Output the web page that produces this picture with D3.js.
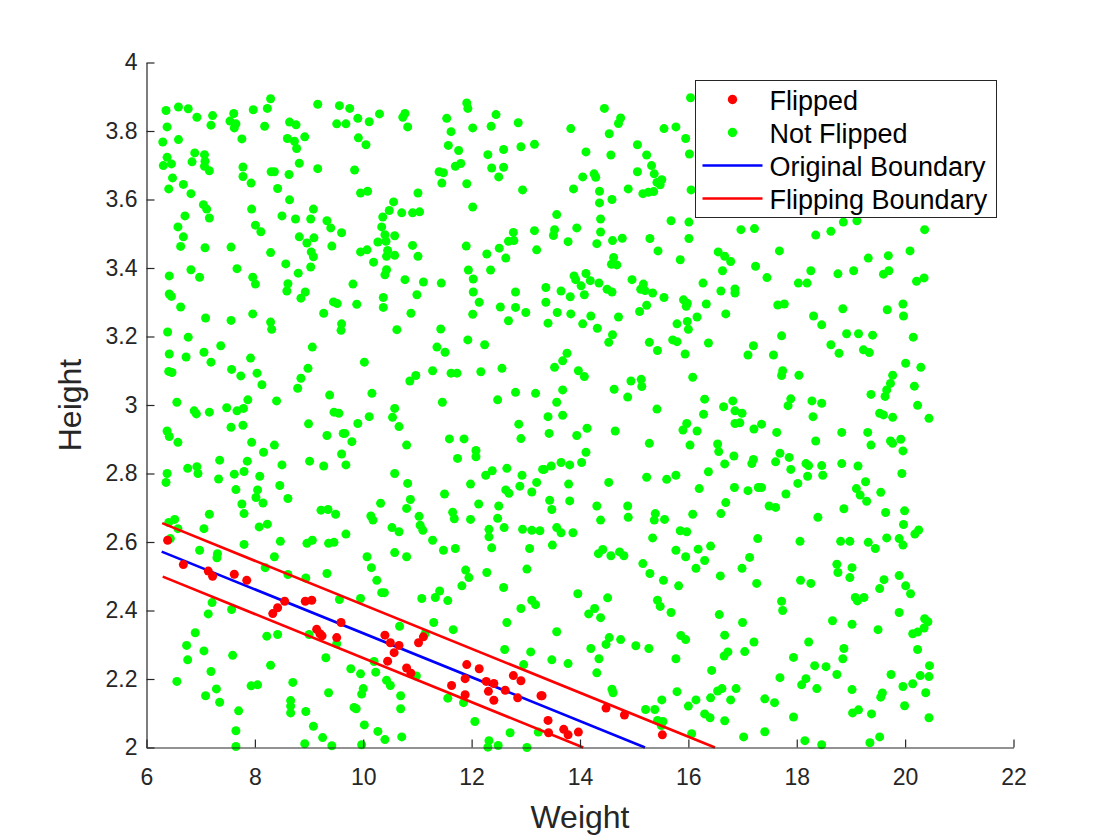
<!DOCTYPE html>
<html>
<head>
<meta charset="utf-8">
<script src="https://cdn.jsdelivr.net/npm/d3@7"></script>
<style>
  body { margin: 0; background: #fff; }
  svg text { font-family: "Liberation Sans", Arial, Helvetica, sans-serif; fill: #262626; }
</style>
</head>
<body>
<div id="display"><svg width="1120" height="840"></svg></div>
<script>
// weight / height pairs
var notFlipped = [
  [6.36,3.86],[6.59,3.87],[6.77,3.865],[6.93,3.84],[7.22,3.845],[7.19,3.817],[7.61,3.851],[7.54,3.829],[7.65,3.821],[7.62,3.809],
  [7.97,3.862],[8.23,3.866],[8.29,3.894],[8.18,3.814],[9.16,3.878],[9.56,3.874],[9.51,3.821],[9.68,3.821],[8.64,3.826],[8.76,3.818],
  [6.38,3.812],[6.30,3.768],[6.59,3.775],[7.76,3.777],[8.60,3.778],[8.73,3.770],[8.92,3.783],[8.77,3.749],[6.38,3.723],[6.31,3.699],
  [6.46,3.704],[6.89,3.736],[6.84,3.710],[7.07,3.731],[7.08,3.712],[7.07,3.697],[7.16,3.684],[7.78,3.695],[7.78,3.667],[7.93,3.648],
  [8.30,3.681],[8.36,3.681],[8.63,3.673],[8.82,3.706],[9.16,3.690],[6.48,3.663],[6.41,3.631],[6.68,3.644],[6.82,3.617],[8.42,3.632],
  [8.64,3.599],[7.05,3.585],[7.11,3.572],[7.16,3.546],[6.71,3.552],[6.58,3.520],[6.68,3.491],[6.63,3.463],[7.08,3.459],[7.56,3.461],
  [7.94,3.572],[8.01,3.525],[8.11,3.506],[8.50,3.552],[8.75,3.543],[9.03,3.543],[9.08,3.572],[9.33,3.538],[9.40,3.517],[9.60,3.503],
  [8.82,3.491],[8.96,3.473],[9.09,3.488],[9.42,3.464],[9.04,3.447],[9.08,3.433],[8.29,3.445],[8.57,3.412],[8.80,3.385],[9.03,3.403],
  [6.42,3.377],[6.82,3.395],[6.98,3.373],[7.67,3.398],[7.96,3.373],[8.01,3.353],[8.61,3.354],[8.59,3.333],[8.93,3.330],[8.85,3.312],
  [6.42,3.324],[6.46,3.317],[6.63,3.286],[9.45,3.301],[9.52,3.296],
  [9.75,3.866],[9.90,3.837],[10.11,3.827],[10.30,3.850],[10.73,3.840],[10.77,3.851],[10.82,3.812],[9.91,3.780],[10.05,3.760],[9.84,3.686],
  [9.95,3.619],[10.08,3.624],[10.56,3.593],[10.48,3.568],[10.36,3.549],[10.34,3.520],[10.71,3.561],[10.91,3.561],[11.04,3.564],[11.01,3.619],
  [10.40,3.497],[10.58,3.494],[10.27,3.476],[10.42,3.478],[10.45,3.451],[10.43,3.434],[10.58,3.437],[10.19,3.417],[9.95,3.447],[10.07,3.453],
  [10.91,3.466],[11.01,3.434],[10.43,3.395],[10.40,3.380],[9.81,3.353],[10.77,3.366],[11.11,3.359],[11.44,3.356],[10.99,3.322],[10.37,3.314],
  [10.37,3.285],[9.88,3.294],[11.91,3.882],[11.93,3.866],[11.54,3.837],[11.62,3.798],[12.02,3.809],[12.45,3.848],[12.36,3.814],[12.86,3.824],
  [11.57,3.758],[11.76,3.743],[12.30,3.731],[12.91,3.754],[13.16,3.761],[12.59,3.746],[12.37,3.692],[12.59,3.694],[12.50,3.666],[11.70,3.697],
  [11.80,3.705],[11.40,3.681],[11.48,3.678],[11.45,3.648],[11.91,3.646],[12.94,3.628],[12.02,3.578],[12.77,3.504],[13.16,3.509],[12.68,3.478],
  [12.78,3.480],[12.51,3.458],[12.63,3.429],[12.28,3.441],[11.90,3.464],[13.20,3.453],[11.94,3.394],[12.03,3.368],[12.35,3.394],[12.03,3.330],
  [12.14,3.300],[12.81,3.330],[12.53,3.286],[12.81,3.285],
  [16.04,3.897],[14.45,3.866],[14.75,3.838],[14.71,3.822],[13.83,3.807],[14.54,3.792],[15.55,3.807],[15.77,3.812],[15.95,3.778],[15.06,3.760],
  [14.11,3.739],[14.57,3.730],[15.23,3.730],[16.02,3.733],[15.32,3.699],[15.37,3.675],[15.06,3.681],[14.05,3.666],[14.26,3.675],[14.29,3.665],
  [15.42,3.650],[15.51,3.658],[15.48,3.643],[15.16,3.617],[15.26,3.621],[15.36,3.623],[14.89,3.631],[13.88,3.631],[14.36,3.624],[14.36,3.590],
  [14.59,3.600],[16.05,3.628],[13.57,3.556],[14.38,3.543],[15.68,3.538],[16.01,3.534],[13.53,3.512],[13.51,3.495],[13.94,3.517],[14.38,3.505],
  [13.78,3.477],[14.31,3.471],[14.60,3.480],[14.78,3.487],[15.29,3.486],[16.01,3.486],[15.44,3.450],[15.85,3.424],[16.55,3.447],[16.67,3.434],
  [16.78,3.419],[16.63,3.392],[14.62,3.431],[14.58,3.411],[14.68,3.409],[13.89,3.377],[13.92,3.366],[14.11,3.384],[14.19,3.363],[14.02,3.348],
  [14.35,3.356],[14.96,3.366],[15.17,3.353],[15.12,3.338],[15.20,3.334],[15.34,3.327],[14.50,3.338],[14.59,3.330],[16.27,3.356],[16.60,3.333],
  [16.86,3.339],[16.86,3.327],[13.37,3.343],[13.65,3.333],[13.82,3.316],[14.08,3.322],[13.37,3.300],[15.55,3.314],[15.91,3.307],[15.98,3.297],
  [15.96,3.288],[16.33,3.295],[15.23,3.291],
  [16.97,3.512],[17.22,3.515],[18.35,3.496],[18.63,3.507],[18.86,3.534],[19.11,3.538],[20.36,3.512],[17.68,3.450],[17.24,3.405],[17.45,3.372],
  [18.03,3.356],[18.19,3.356],[18.26,3.392],[18.76,3.383],[19.05,3.392],[19.32,3.429],[19.69,3.436],[19.60,3.382],[19.70,3.392],[20.09,3.450],
  [20.21,3.361],[20.35,3.371],[17.65,3.292],[17.77,3.295],[18.85,3.281],[19.67,3.278],[19.96,3.295],
  [7.96,3.266],[9.27,3.268],[7.09,3.254],[7.56,3.247],[8.29,3.242],[8.31,3.221],[9.60,3.237],[9.59,3.218],[6.39,3.213],[6.77,3.198],
  [7.37,3.173],[9.06,3.169],[6.42,3.149],[6.73,3.140],[7.06,3.154],[7.19,3.125],[7.92,3.137],[7.57,3.104],[7.74,3.085],[8.04,3.093],
  [8.13,3.059],[8.98,3.107],[8.85,3.078],[8.79,3.049],[6.41,3.098],[6.47,3.095],[6.56,3.008],[6.88,2.983],[6.92,2.974],[7.16,2.979],
  [7.48,2.992],[7.67,2.983],[7.79,2.990],[7.87,3.015],[8.40,3.012],[9.38,3.029],[9.46,2.979],[9.55,2.976],[6.38,2.924],[6.42,2.908],
  [6.58,2.891],[7.56,2.935],[7.78,2.941],[8.99,2.945],[9.33,2.911],[9.63,2.917],[7.94,2.891],[8.36,2.883],[8.16,2.862],[9.60,2.857],
  [9.68,2.825],[7.35,2.839],[7.86,2.836],[8.50,2.825],[9.01,2.836],[9.27,2.822],[6.76,2.815],[6.93,2.820],[6.95,2.800],[6.38,2.800],
  [6.36,2.774],[7.33,2.784],[7.62,2.798],[7.80,2.806],[8.09,2.792],[7.65,2.753],[8.05,2.752],[8.02,2.730],[8.15,2.714],[8.46,2.765],
  [8.61,2.727],[7.76,2.711],[7.80,2.683],[9.22,2.693],[9.35,2.695],[9.49,2.681],[7.16,2.681],[6.52,2.666],[6.41,2.657],[6.58,2.639],
  [7.06,2.639],[8.08,2.644],[8.23,2.652],[9.68,2.623],
  [10.88,3.268],[12.02,3.265],[13.00,3.270],[12.68,3.246],[10.62,3.220],[11.43,3.222],[11.93,3.190],[12.24,3.176],[11.36,3.169],[11.51,3.154],
  [10.02,3.125],[11.28,3.100],[11.62,3.093],[11.73,3.093],[12.17,3.097],[12.56,3.107],[10.97,3.086],[10.86,3.070],[10.16,3.034],[11.46,3.008],
  [12.48,3.015],[12.81,3.037],[13.18,3.034],[10.58,2.990],[10.54,2.964],[10.66,2.937],[10.11,2.966],[9.90,2.946],[9.66,2.917],[9.79,2.893],
  [10.80,2.883],[11.59,2.901],[11.86,2.901],[12.08,2.867],[12.08,2.849],[11.74,2.844],[12.87,2.944],[12.91,2.902],[10.58,2.800],[10.82,2.771],
  [10.32,2.713],[10.87,2.724],[10.80,2.698],[10.14,2.676],[10.18,2.664],[10.53,2.642],[10.66,2.630],[11.03,2.675],[11.05,2.649],[11.10,2.634],
  [11.50,2.740],[11.98,2.769],[11.65,2.687],[11.68,2.668],[11.98,2.666],[12.13,2.711],[12.26,2.795],[12.38,2.808],[12.65,2.815],[12.93,2.795],
  [12.89,2.763],[13.20,2.774],[13.11,2.746],[13.31,2.812],[12.63,2.752],[12.69,2.742],[12.50,2.705],[12.48,2.669],[12.60,2.642],[12.32,2.637],
  [12.94,2.637],[13.11,2.634],[13.26,2.633],
  [13.58,3.270],[13.83,3.266],[14.20,3.260],[14.71,3.257],[15.10,3.273],[13.41,3.239],[14.05,3.237],[14.32,3.224],[14.60,3.205],[14.53,3.183],
  [15.28,3.183],[15.43,3.159],[15.71,3.190],[15.79,3.185],[15.79,3.237],[15.98,3.244],[16.16,3.257],[16.00,3.221],[16.37,3.181],[16.69,3.266],
  [15.94,3.149],[13.76,3.151],[13.68,3.129],[13.53,3.110],[13.97,3.100],[14.08,3.083],[13.68,3.044],[13.57,3.008],[13.41,2.966],[13.68,2.970],
  [14.94,3.070],[15.13,3.075],[15.14,3.054],[14.63,3.046],[14.88,3.023],[15.42,2.988],[16.08,3.081],[16.30,3.017],[16.28,2.973],[16.65,2.995],
  [16.82,3.012],[16.86,2.983],[16.86,2.946],[15.97,2.946],[15.90,2.927],[16.16,2.924],[13.43,2.917],[13.94,2.911],[14.13,2.932],[14.65,2.924],
  [15.28,2.888],[16.03,2.883],[16.54,2.886],[16.56,2.864],[16.84,2.851],[16.67,2.828],[14.11,2.862],[14.03,2.832],[13.65,2.832],[13.81,2.825],
  [13.47,2.822],[13.34,2.812],[13.79,2.769],[14.53,2.774],[15.23,2.789],[15.60,2.783],[15.77,2.795],[16.37,2.805],[16.20,2.756],[16.85,2.759],
  [13.44,2.722],[13.48,2.695],[13.81,2.720],[14.31,2.705],[14.88,2.705],[14.89,2.672],[14.38,2.664],[15.39,2.683],[15.37,2.664],[15.56,2.666],
  [16.08,2.681],[16.60,2.683],[16.69,2.715],[13.57,2.642],[13.65,2.627],[13.87,2.627],[15.85,2.633],[15.97,2.630],
  [18.31,3.260],[19.97,3.260],[18.46,3.234],[17.72,3.202],[18.92,3.208],[19.14,3.208],[19.40,3.204],[20.15,3.198],[17.20,3.173],[17.10,3.146],
  [17.57,3.146],[18.63,3.176],[18.78,3.151],[19.23,3.161],[19.34,3.153],[20.01,3.122],[20.29,3.110],[17.74,3.100],[17.72,3.086],[18.04,3.087],
  [19.77,3.087],[19.73,3.063],[19.66,3.044],[19.63,3.025],[19.37,3.031],[20.17,3.055],[20.23,2.999],[20.44,2.961],[17.89,3.018],[17.84,2.998],
  [18.28,3.012],[18.46,3.005],[18.30,2.966],[16.99,2.976],[16.95,2.948],[17.21,2.930],[17.35,2.944],[17.63,2.920],[18.35,2.895],[18.83,2.920],
  [19.31,2.920],[19.37,2.883],[19.53,2.976],[19.60,2.971],[19.77,2.964],[19.73,2.895],[19.77,2.888],[19.92,2.900],[19.96,2.866],[17.20,2.841],
  [17.17,2.829],[17.69,2.859],[17.86,2.847],[17.61,2.834],[17.89,2.812],[18.17,2.829],[18.22,2.823],[18.46,2.823],[18.48,2.795],[18.20,2.792],
  [18.02,2.771],[18.83,2.829],[19.13,2.822],[19.94,2.800],[19.27,2.776],[19.10,2.756],[19.17,2.737],[19.29,2.719],[19.55,2.745],[19.64,2.686],
  [19.99,2.691],[19.97,2.651],[20.25,2.635],[20.18,2.623],[17.10,2.750],[17.29,2.759],[17.35,2.759],[17.80,2.740],[17.49,2.705],[17.61,2.701],
  [18.87,2.697],[18.39,2.672],
  [6.44,2.610],[7.80,2.593],[8.47,2.602],[8.96,2.596],[9.06,2.605],[9.36,2.596],[9.46,2.599],[6.98,2.576],[7.31,2.566],[7.30,2.554],
  [8.36,2.557],[8.19,2.525],[8.61,2.505],[8.94,2.495],[9.33,2.508],[7.21,2.423],[7.14,2.390],[7.57,2.403],[9.56,2.432],[6.90,2.335],
  [6.74,2.298],[7.06,2.282],[6.76,2.256],[7.59,2.269],[8.22,2.325],[8.42,2.330],[9.00,2.330],[9.51,2.303],[9.31,2.262],[8.29,2.240],
  [7.19,2.222],[6.56,2.193],[8.70,2.190],[7.93,2.180],[8.05,2.183],[7.29,2.171],[7.09,2.151],[7.35,2.132],[9.36,2.160],[8.66,2.137],
  [8.66,2.121],[8.66,2.101],[8.94,2.105],[7.70,2.107],[9.08,2.062],[7.65,2.049],[9.25,2.029],[7.65,2.003],[8.92,2.011],[9.42,2.005],
  [12.32,2.615],[11.28,2.605],[11.48,2.576],[11.70,2.581],[10.58,2.569],[10.80,2.557],[10.07,2.557],[10.15,2.525],[10.25,2.488],[10.34,2.452],
  [10.39,2.452],[9.95,2.435],[11.08,2.435],[11.33,2.438],[11.41,2.457],[11.56,2.429],[11.89,2.518],[11.95,2.496],[11.82,2.472],[12.28,2.511],
  [12.37,2.583],[13.07,2.581],[13.02,2.521],[12.59,2.467],[13.11,2.430],[13.18,2.417],[12.91,2.406],[12.65,2.365],[11.30,2.365],[11.66,2.344],
  [10.67,2.354],[11.14,2.332],[12.61,2.286],[13.09,2.279],[12.96,2.242],[9.77,2.230],[9.95,2.215],[10.23,2.220],[10.20,2.251],[10.43,2.196],
  [10.50,2.181],[10.98,2.209],[10.00,2.172],[9.97,2.156],[10.69,2.151],[11.56,2.144],[11.85,2.131],[9.83,2.117],[9.87,2.113],[10.69,2.113],
  [10.02,2.066],[10.27,2.047],[10.40,2.023],[10.71,2.031],[9.97,2.008],[12.06,2.076],[12.71,2.043],[13.23,2.045],[12.32,2.020],[12.49,2.006],
  [12.30,2.001],[13.02,2.000],
  [15.34,2.612],[13.49,2.591],[14.34,2.566],[14.42,2.578],[14.57,2.560],[14.73,2.571],[14.81,2.560],[15.16,2.537],[15.29,2.508],[15.54,2.488],
  [15.82,2.472],[15.77,2.576],[15.95,2.557],[16.18,2.579],[16.41,2.588],[16.30,2.546],[16.14,2.523],[16.59,2.501],[13.96,2.449],[14.51,2.437],
  [14.27,2.406],[14.16,2.390],[14.38,2.379],[15.43,2.430],[15.48,2.412],[15.68,2.394],[16.57,2.388],[13.57,2.338],[14.54,2.321],[14.48,2.301],
  [14.20,2.289],[14.75,2.315],[15.03,2.297],[15.27,2.289],[15.86,2.327],[15.95,2.315],[16.67,2.328],[16.73,2.279],[16.66,2.267],[13.48,2.256],
  [13.78,2.245],[14.35,2.259],[14.31,2.218],[15.77,2.259],[16.43,2.225],[14.59,2.170],[14.61,2.160],[15.79,2.163],[15.51,2.139],[15.21,2.111],
  [15.38,2.111],[16.00,2.121],[16.14,2.139],[16.41,2.145],[16.54,2.165],[16.62,2.172],[16.78,2.139],[16.88,2.172],[16.30,2.098],[16.40,2.087],
  [16.67,2.078],[15.43,2.079],[15.53,2.076],[15.50,2.064],[16.06,2.040],
  [17.28,2.610],[18.06,2.602],[18.81,2.602],[18.98,2.602],[19.32,2.599],[19.45,2.581],[19.66,2.612],[19.89,2.610],[19.96,2.591],[17.13,2.555],
  [16.99,2.523],[17.26,2.479],[18.07,2.488],[18.26,2.479],[18.74,2.535],[18.76,2.511],[19.02,2.525],[18.98,2.496],[19.61,2.490],[19.53,2.464],
  [19.89,2.502],[20.01,2.472],[20.10,2.449],[19.08,2.438],[19.12,2.428],[19.24,2.438],[17.72,2.427],[17.74,2.400],[17.00,2.365],[18.66,2.370],
  [19.02,2.360],[19.50,2.344],[19.89,2.394],[20.36,2.376],[20.42,2.367],[20.35,2.349],[20.23,2.337],[20.14,2.332],[17.21,2.308],[17.04,2.280],
  [18.22,2.308],[17.94,2.263],[18.87,2.289],[18.85,2.259],[18.33,2.239],[18.54,2.236],[18.74,2.213],[17.69,2.204],[18.17,2.201],[18.09,2.183],
  [18.37,2.172],[19.74,2.213],[20.45,2.239],[20.28,2.210],[20.44,2.207],[20.14,2.186],[19.96,2.178],[20.38,2.160],[20.23,2.286],[19.02,2.169],
  [19.58,2.159],[19.55,2.147],[17.41,2.142],[17.59,2.131],[19.99,2.122],[19.03,2.101],[19.14,2.110],[19.38,2.098],[17.94,2.089],[20.44,2.087],
  [17.02,2.031],[17.41,2.046],[18.15,2.020],[18.46,2.008],[19.35,2.014],[19.53,2.031]
];

var flipped = [
  [6.39,2.605],[6.68,2.534],[7.14,2.515],[7.22,2.500],[7.62,2.506],[7.85,2.488],[8.55,2.427],[8.42,2.408],[8.33,2.391],[8.93,2.427],
  [9.05,2.430],[9.59,2.365],[9.14,2.345],[9.20,2.332],[9.24,2.326],[9.51,2.321],
  [10.40,2.328],[10.50,2.306],[10.66,2.298],[10.57,2.277],[10.45,2.252],[11.02,2.306],[11.11,2.323],[10.80,2.232],[10.88,2.217],[11.63,2.181],
  [11.88,2.201],[11.91,2.242],[12.14,2.230],[12.27,2.193],[12.41,2.187],[12.31,2.164],[12.41,2.138],[12.62,2.167],[11.88,2.154],[12.77,2.210],
  [12.91,2.195],[12.85,2.145],[13.28,2.151],
  [13.30,2.151],[14.48,2.115],[14.82,2.095],[13.41,2.079],[13.42,2.043],[13.70,2.053],[13.78,2.037],[13.97,2.045],[15.52,2.037]
];

// boundary end points (weight, height)
var originalBoundary = [[6.28, 2.572], [15.20, 2.0]];
var flippingUpper = [[6.29, 2.655], [16.49, 2.0]];
var flippingLower = [[6.30, 2.499], [14.06, 2.0]];

var xTicks = [6, 8, 10, 12, 14, 16, 18, 20, 22];
var yTicks = [2, 2.2, 2.4, 2.6, 2.8, 3, 3.2, 3.4, 3.6, 3.8, 4];
var legendLabels = ["Flipped", "Not Flipped", "Original Boundary", "Flipping Boundary"];

var axisColor = "#262626";

function init() {
    var canvas = d3.select("#display svg");
    var x = d3.scaleLinear().domain([6, 22]).range([146.5, 1013.5]);
    var y = d3.scaleLinear().domain([2, 4]).range([747.5, 62.5]);

    var line = d3.line()
	.x(function (d) { return x(d[0]); })
	.y(function (d) { return y(d[1]); });

    canvas.append("g").selectAll("circle")
	.data(notFlipped).enter().append("circle")
	.attr("cx", function (d) { return x(d[0]); })
	.attr("cy", function (d) { return y(d[1]); })
	.attr("r", 4.5)
	.style("fill", "#00ff00");

    canvas.append("path").datum(originalBoundary)
	.attr("d", line).style("fill", "none").style("stroke", "#0000ff").style("stroke-width", 2.6);
    canvas.append("path").datum(flippingUpper)
	.attr("d", line).style("fill", "none").style("stroke", "#ff0000").style("stroke-width", 2.6);
    canvas.append("path").datum(flippingLower)
	.attr("d", line).style("fill", "none").style("stroke", "#ff0000").style("stroke-width", 2.6);

    canvas.append("g").selectAll("circle")
	.data(flipped).enter().append("circle")
	.attr("cx", function (d) { return x(d[0]); })
	.attr("cy", function (d) { return y(d[1]); })
	.attr("r", 4.5)
	.style("fill", "#ff0000");

    // axes, ticks pointing inward, no box
    var xAxis = canvas.append("g")
	.attr("transform", "translate(0," + y(2) + ")")
	.call(d3.axisBottom(x).tickValues(xTicks).tickSizeInner(-8).tickSizeOuter(0).tickPadding(21)
	      .tickFormat(d3.format("d")));
    var yAxis = canvas.append("g")
	.attr("transform", "translate(" + x(6) + ",0)")
	.call(d3.axisLeft(y).tickValues(yTicks).tickSizeInner(-8).tickSizeOuter(0).tickPadding(18)
	      .tickFormat(function (d) { return d3.format("")(+d.toFixed(1)); }));
    [xAxis, yAxis].forEach(function (a) {
	a.select(".domain").style("stroke", axisColor).style("stroke-width", 1.2);
	a.selectAll(".tick line").style("stroke", axisColor).style("stroke-width", 1.2);
	a.selectAll(".tick text").style("font-size", "23px").style("fill", axisColor)
	    .style("font-family", "'Liberation Sans', Arial, Helvetica, sans-serif");
    });
    xAxis.selectAll(".tick text").attr("dy", "0.71em");
    yAxis.selectAll(".tick text").attr("x", -9);

    canvas.append("text")
	.attr("x", (x(6) + x(22)) / 2).attr("y", 828)
	.attr("text-anchor", "middle")
	.style("font-size", "32px")
	.text("Weight");
    canvas.append("text")
	.attr("transform", "translate(81," + (y(3)) + ") rotate(-90)")
	.attr("text-anchor", "middle")
	.style("font-size", "32px")
	.text("Height");

    // legend
    var legend = canvas.append("g").attr("transform", "translate(695.5,80.5)");
    legend.append("rect")
	.attr("width", 301).attr("height", 137)
	.style("fill", "#fff").style("stroke", axisColor).style("stroke-width", 1);
    var rows = legend.selectAll("g.entry").data(legendLabels).enter().append("g")
	.attr("class", "entry")
	.attr("transform", function (d, i) { return "translate(0," + (19 + i * 33) + ")"; });
    rows.each(function (d, i) {
	var g = d3.select(this);
	if (i < 2) {
	    g.append("circle").attr("cx", 37).attr("cy", 0).attr("r", 4.7)
		.style("fill", i === 0 ? "#ff0000" : "#00ff00");
	} else {
	    g.append("line").attr("x1", 7).attr("x2", 67).attr("y1", 0).attr("y2", 0)
		.style("stroke", i === 2 ? "#0000ff" : "#ff0000").style("stroke-width", 2.6);
	}
	g.append("text").attr("x", 74).attr("y", 10)
	    .style("font-size", "27px").style("fill", "#000")
	    .text(d);
    });
}

document.addEventListener("DOMContentLoaded", init, false);
</script>
</body>
</html>
